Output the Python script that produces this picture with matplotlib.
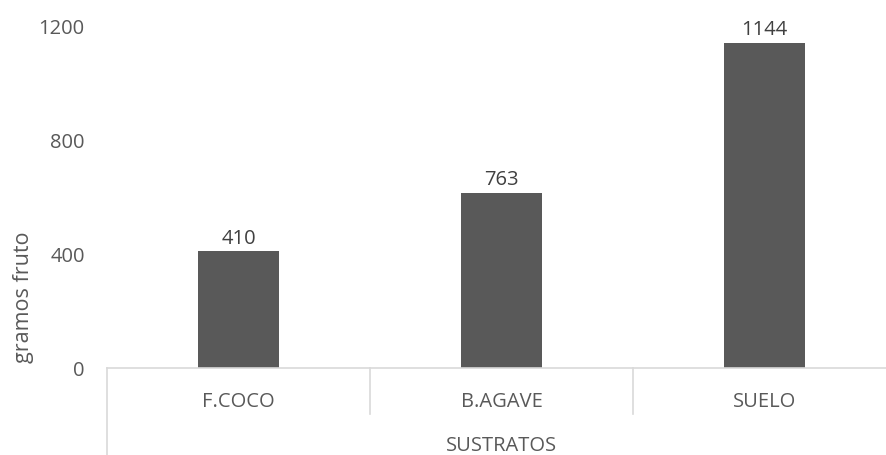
# Bar chart: gramos de fruto por sustrato.

import matplotlib.pyplot as plt

# Data.
sustratos = ['F.COCO', 'B.AGAVE', 'SUELO']
alturas = [410, 617, 1144]          # bar heights as drawn
etiquetas = ['410', '763', '1144']  # data labels as printed
yticks = [0, 400, 800, 1200]

gris = '#595959'
linea = '#d9d9d9'
fs = 14.5

plt.rcParams['font.family'] = ['Open Sans', 'DejaVu Sans']

fig = plt.figure(figsize=(8.86, 4.55), dpi=100)
W, H = 886, 455
ax = fig.add_axes([107 / W, (H - 368) / H, (W - 107) / W, 341 / H])

x = range(len(sustratos))
bars = ax.bar(x, alturas, width=0.31, color=gris)

for b, txt in zip(bars, etiquetas):
    ax.annotate(txt, (b.get_x() + b.get_width() / 2, b.get_height()),
                xytext=(0, 2), textcoords='offset points',
                ha='center', va='bottom', fontsize=fs, color='#404040')

ax.set_xlim(-0.5, -0.5 + (W - 107) / 263)
ax.set_ylim(0, 1200)
ax.set_yticks(yticks)
ax.set_xticks(list(x))
ax.set_xticklabels(sustratos)
ax.tick_params(axis='x', length=0, pad=17, labelsize=fs, labelcolor=gris)
ax.tick_params(axis='y', length=0, pad=16, labelsize=fs, labelcolor=gris)

for s in ['top', 'right', 'left']:
    ax.spines[s].set_visible(False)
ax.spines['bottom'].set_color(linea)
ax.spines['bottom'].set_linewidth(1.2)

# category separators under the axis
tr = ax.get_xaxis_transform()
ax.plot([-0.5, -0.5], [0, -(455 - 368) / 341], transform=tr, color=linea,
        lw=1.2, clip_on=False)
for xs in [0.5, 1.5]:
    ax.plot([xs, xs], [0, -(414 - 368) / 341], transform=tr, color=linea,
            lw=1.2, clip_on=False)

ax.text(1.0, -(446 - 368) / 341, 'SUSTRATOS', transform=tr, ha='center',
        va='center', fontsize=fs, color=gris)

fig.text(23 / W, 1 - 297 / H, 'gramos fruto', rotation=90, ha='center',
         va='center', fontsize=15.5, color=gris)

fig.savefig('out.png', dpi=100)
